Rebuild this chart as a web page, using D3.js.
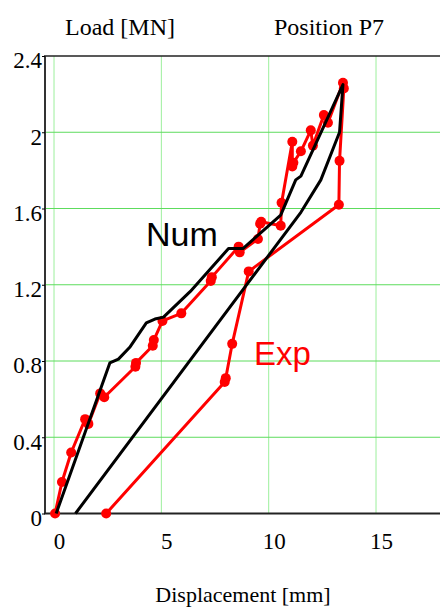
<!DOCTYPE html>
<html>
<head>
<meta charset="utf-8">
<script src="https://cdn.jsdelivr.net/npm/d3@7"></script>
<style>
	body { margin: 0; background: #fff; }
	svg { display: block; }
	.lbl { font-family: 'Liberation Serif', 'Times New Roman', serif; fill: #000; }
	.big { font-family: 'Liberation Sans', Arial, sans-serif; }
</style>
</head>
<body>
<div class="graph"></div>
<script>
// experimental curve (red, with markers)
const expX = [0.05, 0.37, 0.8, 1.45, 1.6, 2.15, 2.34, 3.79, 3.82, 4.6, 4.65, 5.05, 5.93, 7.3, 7.35, 8.6, 8.65, 9.5, 9.6, 9.65, 10.56, 10.6, 11.1, 11.1, 11.15, 11.5, 11.96, 12.06, 12.57, 12.76, 13.46, 13.5, 13.3, 13.27, 9.07, 8.3, 8.0, 7.95, 2.43];
const expY = [0, 0.165, 0.32, 0.495, 0.47, 0.63, 0.61, 0.77, 0.79, 0.88, 0.91, 1.01, 1.05, 1.22, 1.24, 1.40, 1.37, 1.44, 1.52, 1.53, 1.51, 1.63, 1.95, 1.82, 1.84, 1.90, 2.01, 1.93, 2.09, 2.05, 2.26, 2.23, 1.85, 1.62, 1.27, 0.89, 0.71, 0.69, 0];
// numerical curve (black)
const numX = [0.1, 2.6, 3.0, 3.55, 4.3, 4.7, 5.1, 6.35, 8.13, 8.8, 10.56, 11.26, 11.5, 13.46, 13.3, 12.43, 11.5, 1.0];
const numY = [0, 0.79, 0.81, 0.875, 1.0, 1.02, 1.03, 1.165, 1.39, 1.39, 1.565, 1.75, 1.77, 2.25, 2.0, 1.75, 1.58, 0];
const xTicks = [0, 5, 10, 15];
const yTicks = [0, 0.4, 0.8, 1.2, 1.6, 2, 2.4];

const chart = {
	vars() {
		this.width = 440;
		this.height = 607;
		this.svg = d3.select('.graph').append('svg')
			.attr('width', this.width)
			.attr('height', this.height);
		this.x = d3.scaleLinear().domain([-0.42, 17.98]).range([45, 440]);
		this.y = d3.scaleLinear().domain([0, 2.4]).range([513.5, 56]);
	},
	grid() {
		const {svg, x, y} = this;
		svg.append('g').selectAll('line').data(xTicks).enter().append('line')
			.attr('x1', d => x(d)).attr('x2', d => x(d))
			.attr('y1', y(2.4)).attr('y2', y(0))
			.attr('stroke', '#9cef9c').attr('stroke-width', 1);
		svg.append('g').selectAll('line').data(yTicks.slice(1, -1)).enter().append('line')
			.attr('x1', x.range()[0]).attr('x2', x.range()[1])
			.attr('y1', d => y(d)).attr('y2', d => y(d))
			.attr('stroke', '#5ddc5d').attr('stroke-width', 1);
	},
	axes() {
		const {svg, x, y} = this;
		/* frame: left, bottom, top */
		svg.append('line').attr('x1', 45).attr('x2', 45).attr('y1', y(2.4)).attr('y2', y(0))
			.attr('stroke', '#333').attr('stroke-width', 2);
		svg.append('line').attr('x1', 44).attr('x2', 440).attr('y1', y(0)).attr('y2', y(0))
			.attr('stroke', '#222').attr('stroke-width', 2);
		svg.append('line').attr('x1', 44).attr('x2', 440).attr('y1', y(2.4)).attr('y2', y(2.4))
			.attr('stroke', '#222').attr('stroke-width', 1.5);

		const yAxis = d3.axisLeft(y).tickValues(yTicks).tickSize(3).tickFormat(d3.format('~g'));
		const gy = svg.append('g').attr('transform', 'translate(45,0)').call(yAxis);
		gy.select('.domain').remove();
		gy.selectAll('text').attr('class', 'lbl').attr('font-size', 23).attr('x', -3).attr('dy', '0.52em');

		const xAxis = d3.axisBottom(x).tickValues(xTicks).tickSize(0).tickFormat(d3.format('~g'));
		const gx = svg.append('g').attr('transform', `translate(5, ${y(0)})`).call(xAxis);
		gx.select('.domain').remove();
		gx.selectAll('text').attr('class', 'lbl').attr('font-size', 23).attr('y', 19);
	},
	curves() {
		const {svg, x, y} = this;
		const line = d3.line().x(d => x(d[0])).y(d => y(d[1]));
		const num = numX.map((v, i) => [v, numY[i]]);
		const exp = expX.map((v, i) => [v, expY[i]]);

		svg.append('path').datum(exp).attr('d', line)
			.attr('fill', 'none').attr('stroke', '#ff0000').attr('stroke-width', 3)
			.attr('stroke-linejoin', 'round');
		svg.append('g').selectAll('circle').data(exp).enter().append('circle')
			.attr('cx', d => x(d[0])).attr('cy', d => y(d[1])).attr('r', 5)
			.attr('fill', '#ff0000');
		svg.append('path').datum(num).attr('d', line)
			.attr('fill', 'none').attr('stroke', '#000').attr('stroke-width', 3)
			.attr('stroke-linejoin', 'round');
	},
	labels() {
		const svg = this.svg;
		svg.append('text').attr('class', 'lbl').attr('x', 65).attr('y', 35).attr('font-size', 24).text('Load [MN]');
		svg.append('text').attr('class', 'lbl').attr('x', 274).attr('y', 35).attr('font-size', 24).text('Position P7');
		svg.append('text').attr('class', 'lbl').attr('x', 243).attr('y', 602).attr('font-size', 22)
			.attr('text-anchor', 'middle').text('Displacement [mm]');
		svg.append('text').attr('class', 'big').attr('x', 146).attr('y', 246).attr('font-size', 34).attr('fill', '#000').text('Num');
		svg.append('text').attr('class', 'big').attr('x', 254).attr('y', 365).attr('font-size', 33).attr('fill', '#ff0000').text('Exp');
	},
	init() {
		this.vars();
		this.grid();
		this.axes();
		this.curves();
		this.labels();
	}
};

chart.init();
</script>
</body>
</html>
